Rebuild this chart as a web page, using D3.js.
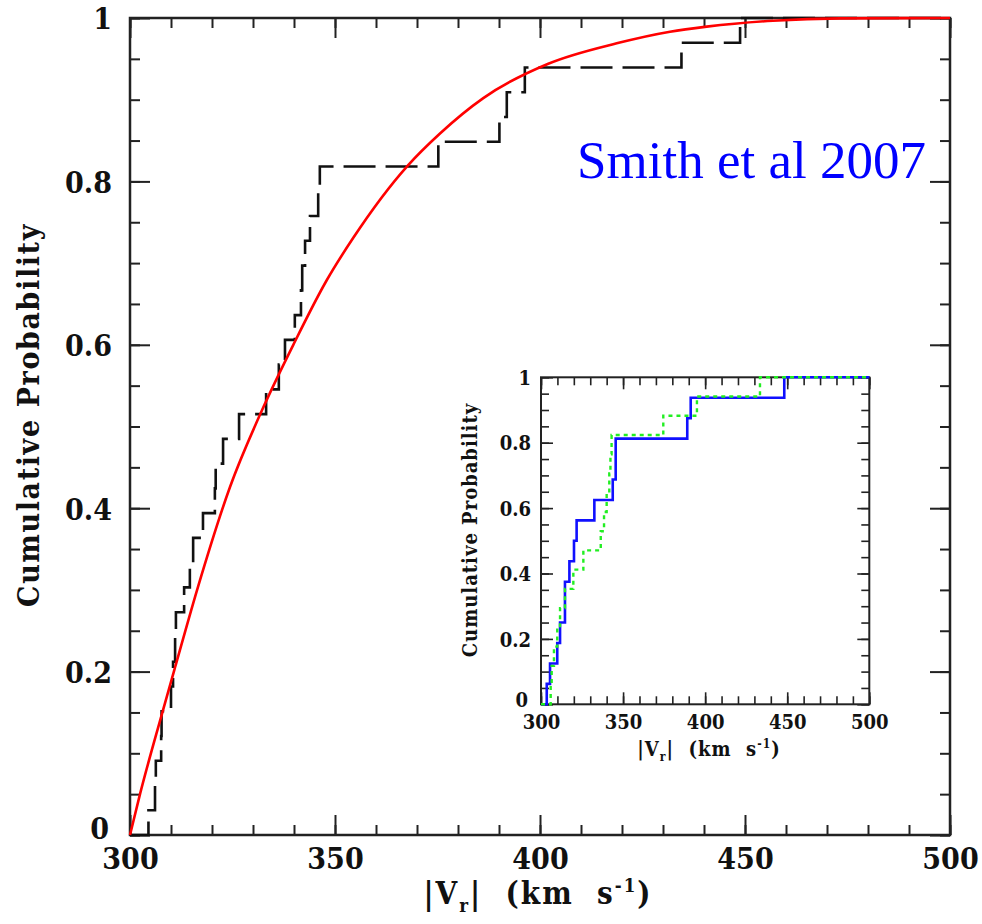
<!DOCTYPE html>
<html><head><meta charset="utf-8">
<script src="https://cdn.jsdelivr.net/npm/d3@7"></script>
<style>body{margin:0;background:#fff} svg{display:block}</style>
</head><body>
<svg id="c" width="982" height="924"></svg>
<script>
// ---------- data ----------
// combined sample (33 stars): velocities at which the empirical CDF steps up
const mainJumps = [304.5, 306.1, 306.3, 307.6, 307.7, 310.0, 310.5, 311.0, 311.2, 313.2, 314.6,
  315.4, 317.8, 320.7, 320.9, 322.7, 326.6, 333.2, 336.3, 337.8, 340.2, 341.7, 342.0, 342.7,
  343.9, 345.9, 346.3, 375.2, 390.1, 391.9, 396.3, 434.5, 448.8];
// inset: blue sample (16) and green sample (17)
const blueJumps = [303.5, 305.5, 309.9, 311.6, 314.6, 314.6, 317.3, 320.1, 321.7, 332.5, 343.7,
  345.5, 345.5, 389.1, 391.2, 448.2];
const greenJumps = [305.9, 306.5, 307.9, 309.9, 311.6, 314.6, 319.7, 325.8, 336.4, 338.4, 340.0,
  341.6, 342.3, 343.0, 374.5, 395.0, 433.4];
// red model curve
const modelV = [300, 302.44, 307.73, 310.98, 316.66, 324.39, 332.93, 339.83, 347.98, 354.46,
  367.80, 375.61, 386.17, 402.02, 418.71, 431.71, 440.66, 456.83, 473.17, 500];
const modelP = [0, 0.050, 0.147, 0.205, 0.305, 0.426, 0.528, 0.600, 0.679, 0.731,
  0.8197, 0.8587, 0.902, 0.944, 0.969, 0.9832, 0.9894, 0.9967, 0.9996, 1];
const xMajor = [300, 350, 400, 450, 500];
const xMinor = d3.range(300, 501, 10);
const yMajor = [0, 0.2, 0.4, 0.6, 0.8, 1];
const yMinor = d3.range(0, 1.0001, 0.05);
const xTickLabels = ["300", "350", "400", "450", "500"];
const yTickLabels = ["0", "0.2", "0.4", "0.6", "0.8", "1"];
const yTitle = "Cumulative Probability";
const noteText = "Smith et al 2007";

const svg = d3.select("#c");
const tickFont = '"DejaVu Serif Condensed","DejaVu Serif",serif';

function stepLine(jumps, x, y) {
  const n = jumps.length;
  const pts = [[x.domain()[0], 0]].concat(jumps.map((v, i) => [v, (i + 1) / n]));
  pts.push([x.domain()[1], 1]);
  return d3.line().x(d => x(d[0])).y(d => y(d[1])).curve(d3.curveStepAfter)(pts);
}

function frame(g, x, y, major, minor, sw, fs, pad) {
  const [x0, x1] = x.range(), [y0, y1] = y.range();
  const mk = (axis, tr, vals, size) => {
    const a = g.append("g").attr("transform", tr)
      .call(axis.tickValues(vals).tickSizeOuter(0).tickSize(size).tickFormat(""));
    a.select(".domain").remove();
    a.selectAll(".tick line").attr("stroke", "#222").attr("stroke-width", sw * 0.8);
    return a;
  };
  mk(d3.axisBottom(x), `translate(0,${y0})`, xMinor, -minor);
  mk(d3.axisTop(x), `translate(0,${y1})`, xMinor, -minor);
  mk(d3.axisLeft(y), `translate(${x0},0)`, yMinor, -minor);
  mk(d3.axisRight(y), `translate(${x1},0)`, yMinor, -minor);
  const bx = mk(d3.axisBottom(x), `translate(0,${y0})`, xMajor, -major);
  mk(d3.axisTop(x), `translate(0,${y1})`, xMajor, -major);
  const ly = mk(d3.axisLeft(y), `translate(${x0},0)`, yMajor, -major);
  mk(d3.axisRight(y), `translate(${x1},0)`, yMajor, -major);
  bx.selectAll(".tick text").text((d, i) => xTickLabels[i])
    .attr("y", pad[0]).attr("dy", "0").attr("font-size", fs).attr("font-weight", "bold")
    .attr("font-family", tickFont).attr("font-stretch", "condensed").attr("fill", "#111");
  ly.selectAll(".tick text").text((d, i) => yTickLabels[i])
    .attr("x", (d) => d === 0 ? -pad[1] - 3 : -pad[1]).attr("dy", (d) => d === 0 ? "0.1em" : "0.36em")
    .attr("font-size", fs).attr("font-weight", "bold")
    .attr("font-family", tickFont).attr("font-stretch", "condensed").attr("fill", "#111");
  g.append("rect").attr("x", x0).attr("y", y1).attr("width", x1 - x0).attr("height", y0 - y1)
    .attr("fill", "none").attr("stroke", "#222").attr("stroke-width", sw);
}

function xTitle(g, cx, cy, fs, ls) {
  const t = g.append("text").attr("x", cx).attr("y", cy).attr("text-anchor", "middle")
    .attr("font-size", fs).attr("font-weight", "bold").attr("font-family", tickFont)
    .attr("font-stretch", "condensed").attr("letter-spacing", ls)
    .attr("fill", "#111").style("white-space", "pre");
  t.append("tspan").text("|V");
  t.append("tspan").attr("dy", fs * 0.25).attr("font-size", fs * 0.6).text("r");
  t.append("tspan").attr("dy", -fs * 0.25).text("|  (km  s");
  t.append("tspan").attr("dy", -fs * 0.4).attr("font-size", fs * 0.6).text("-1");
  t.append("tspan").attr("dy", fs * 0.4).text(")");
}
function yTitleText(g, cx, cy, fs, ls) {
  g.append("text").attr("transform", `translate(${cx},${cy}) rotate(-90)`)
    .attr("text-anchor", "middle").attr("dy", "0.35em")
    .attr("font-size", fs).attr("font-weight", "bold").attr("font-family", tickFont)
    .attr("font-stretch", "condensed").attr("letter-spacing", ls).attr("fill", "#111")
    .style("white-space", "pre").text(yTitle);
}

// ---------- main panel ----------
const x = d3.scaleLinear().domain([300, 500]).range([130, 950]);
const y = d3.scaleLinear().domain([0, 1]).range([835, 18]);
const gm = svg.append("g");
frame(gm, x, y, 20, 10, 2.5, 30, [34, 18]);
gm.append("path").attr("d", stepLine(mainJumps, x, y)).attr("fill", "none")
  .attr("stroke", "#111").attr("stroke-width", 2.6).attr("stroke-dasharray", "32,10");
const model = modelV.map((v, i) => [v, modelP[i]]);
gm.append("path").attr("d", d3.line().x(d => x(d[0])).y(d => y(d[1])).curve(d3.curveMonotoneX)(model))
  .attr("fill", "none").attr("stroke", "#ff0000").attr("stroke-width", 2.6);
xTitle(gm, 538, 904, 31, 2);
yTitleText(gm, 28, 415, 30, 1.6);
gm.append("text").attr("x", 577).attr("y", 178).attr("font-size", 53)
  .attr("font-family", '"Liberation Serif","Times New Roman",serif').attr("fill", "#0000ff")
  .text(noteText);

// ---------- inset ----------
const xi = d3.scaleLinear().domain([300, 500]).range([541, 869.3]);
const yi = d3.scaleLinear().domain([0, 1]).range([704.3, 377.3]);
const gi = svg.append("g");
gi.append("rect").attr("x", 541).attr("y", 377.3).attr("width", 328.3).attr("height", 327).attr("fill", "#fff");
frame(gi, xi, yi, 12, 8, 2, 20, [25, 10]);
gi.append("path").attr("d", stepLine(blueJumps, xi, yi)).attr("fill", "none")
  .attr("stroke", "#1010ff").attr("stroke-width", 2.6);
gi.append("path").attr("d", stepLine(greenJumps, xi, yi)).attr("fill", "none")
  .attr("stroke", "#22ee22").attr("stroke-width", 2.4).attr("stroke-dasharray", "4,4");
xTitle(gi, 709, 756, 20, 1);
yTitleText(gi, 470, 530, 20, 1);
</script>
</body></html>
